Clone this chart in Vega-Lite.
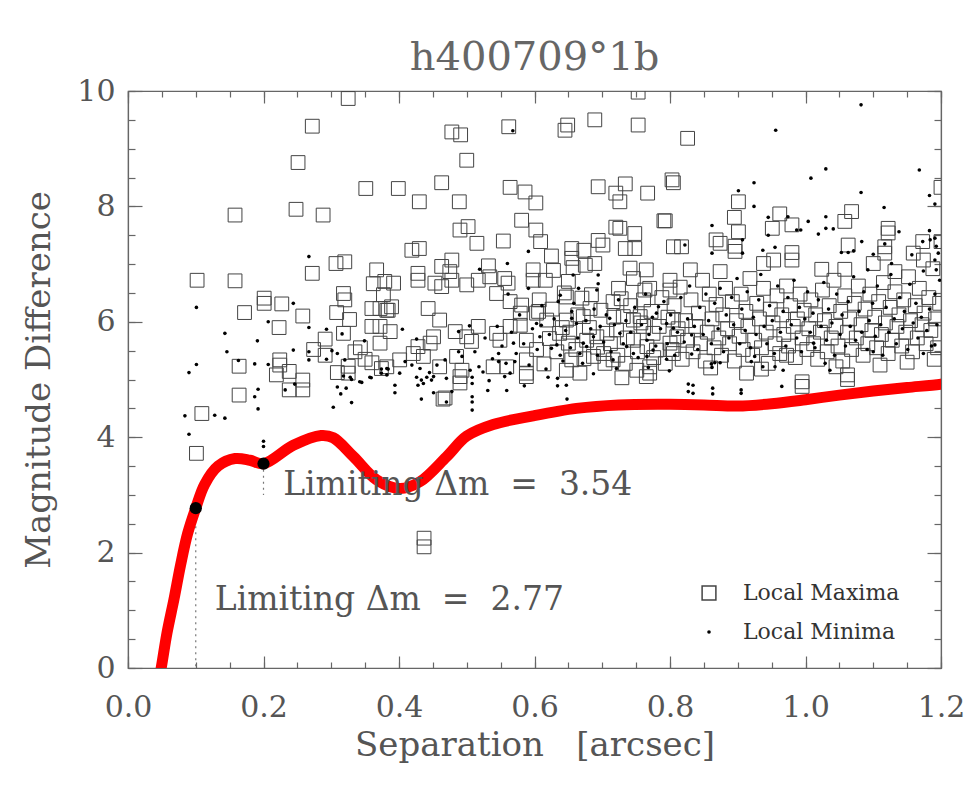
{
"$schema":"https://vega.github.io/schema/vega-lite/v6.json",
"width":813,"height":577,
"autosize":{"type":"none"},
"padding":{"left":128,"top":91,"right":28,"bottom":133},
"background":"white",
"title":{"text":"h400709°1b","font":"DejaVu Serif","fontSize":40,"fontWeight":"normal","color":"#666","anchor":"middle","baseline":"alphabetic","offset":19,"dy":53,"frame":"group"},
"config":{
 "view":{"stroke":"#666","strokeWidth":1.2},
 "axis":{"domainColor":"#666","domainWidth":1.2,"tickColor":"#666","tickWidth":1.2,"labelColor":"#555","titleColor":"#555","labelFont":"DejaVu Serif","titleFont":"DejaVu Serif","labelFontSize":30,"titleFontSize":34,"titleFontWeight":"normal","grid":false,"labelOverlap":false,"labelFlush":false}
},
"datasets":{
"max":[
{"x":0.102,"y":6.72},{"x":0.158,"y":7.85},{"x":0.158,"y":6.71},{"x":0.164,"y":5.23},{"x":0.164,"y":4.73},{"x":0.172,"y":6.16},{"x":0.109,"y":4.41},{"x":0.101,"y":3.72},
{"x":0.201,"y":6.41},{"x":0.201,"y":6.32},{"x":0.227,"y":6.31},{"x":0.223,"y":5.9},{"x":0.224,"y":5.34},{"x":0.224,"y":5.25},{"x":0.219,"y":5.08},{"x":0.238,"y":5.14},{"x":0.258,"y":4.99},{"x":0.258,"y":4.82},{"x":0.238,"y":4.82},{"x":0.258,"y":6.1},
{"x":0.248,"y":7.95},{"x":0.251,"y":8.76},{"x":0.272,"y":9.39},{"x":0.288,"y":7.85},{"x":0.325,"y":9.87},{"x":0.351,"y":8.31},{"x":0.272,"y":6.84},{"x":0.307,"y":7.01},{"x":0.32,"y":7.04},{"x":0.367,"y":6.9},{"x":0.318,"y":6.49},{"x":0.32,"y":6.38},{"x":0.308,"y":6.16},{"x":0.327,"y":6.04},{"x":0.318,"y":5.8},{"x":0.291,"y":5.7},{"x":0.36,"y":6.23},{"x":0.36,"y":5.92},{"x":0.362,"y":6.66},{"x":0.377,"y":6.47},{"x":0.382,"y":6.2},{"x":0.274,"y":5.52},{"x":0.291,"y":5.42},{"x":0.309,"y":5.12},{"x":0.325,"y":5.23},{"x":0.325,"y":5.11},{"x":0.36,"y":5.29},{"x":0.374,"y":5.19},{"x":0.343,"y":5.55},{"x":0.35,"y":5.35},{"x":0.335,"y":5.48},
{"x":0.399,"y":8.31},{"x":0.463,"y":8.41},{"x":0.43,"y":8.08},{"x":0.489,"y":8.08},{"x":0.478,"y":9.29},{"x":0.491,"y":9.24},{"x":0.5,"y":8.8},{"x":0.564,"y":8.33},{"x":0.586,"y":8.25},{"x":0.602,"y":8.06},{"x":0.562,"y":9.38},{"x":0.645,"y":9.32},{"x":0.649,"y":9.41},{"x":0.689,"y":9.5},{"x":0.694,"y":8.34},{"x":0.72,"y":8.23},{"x":0.726,"y":8.08},{"x":0.734,"y":8.39},{"x":0.767,"y":8.23},{"x":0.805,"y":8.41},{"x":0.753,"y":9.98},{"x":0.753,"y":9.41},{"x":0.826,"y":9.18},
{"x":0.581,"y":7.76},{"x":0.602,"y":7.59},{"x":0.49,"y":7.59},{"x":0.502,"y":7.65},{"x":0.515,"y":7.36},{"x":0.554,"y":7.4},{"x":0.609,"y":7.39},{"x":0.419,"y":7.24},{"x":0.43,"y":7.27},{"x":0.625,"y":7.14},{"x":0.655,"y":7.27},{"x":0.673,"y":7.24},{"x":0.694,"y":7.41},{"x":0.701,"y":7.33},{"x":0.72,"y":7.64},{"x":0.726,"y":7.62},{"x":0.748,"y":7.53},{"x":0.791,"y":7.75},{"x":0.734,"y":7.27},{"x":0.748,"y":7.27},{"x":0.805,"y":7.3},
{"x":0.463,"y":6.96},{"x":0.478,"y":7.07},{"x":0.532,"y":6.97},{"x":0.598,"y":6.9},{"x":0.628,"y":6.89},{"x":0.655,"y":7.1},{"x":0.657,"y":6.94},{"x":0.675,"y":6.98},{"x":0.689,"y":7.01},{"x":0.741,"y":6.93},{"x":0.746,"y":6.75},{"x":0.428,"y":6.84},{"x":0.428,"y":6.72},{"x":0.379,"y":6.7},{"x":0.392,"y":6.67},{"x":0.453,"y":6.67},{"x":0.463,"y":6.61},{"x":0.475,"y":6.87},{"x":0.478,"y":6.72},{"x":0.5,"y":6.64},{"x":0.517,"y":6.72},{"x":0.534,"y":6.78},{"x":0.556,"y":6.75},{"x":0.561,"y":6.67},{"x":0.598,"y":6.72},{"x":0.616,"y":6.72},{"x":0.65,"y":6.7},{"x":0.67,"y":6.41},{"x":0.389,"y":6.26},{"x":0.384,"y":6.2},{"x":0.443,"y":6.23},{"x":0.544,"y":6.49},{"x":0.564,"y":6.35},{"x":0.581,"y":6.29},{"x":0.579,"y":6.15},{"x":0.606,"y":6.18},{"x":0.647,"y":6.43},{"x":0.682,"y":6.23},{"x":0.724,"y":6.58},{"x":0.716,"y":6.35},{"x":0.761,"y":6.38},{"x":0.756,"y":6.09},{"x":0.77,"y":6.58},{"x":0.8,"y":6.72},{"x":0.8,"y":6.55},{"x":0.372,"y":6.23},
{"x":0.372,"y":5.92},{"x":0.387,"y":5.83},{"x":0.372,"y":5.63},{"x":0.421,"y":5.45},{"x":0.436,"y":5.4},{"x":0.446,"y":5.63},{"x":0.485,"y":5.4},{"x":0.493,"y":5.16},{"x":0.507,"y":5.66},{"x":0.517,"y":5.92},{"x":0.544,"y":5.8},{"x":0.549,"y":5.68},{"x":0.564,"y":5.92},{"x":0.579,"y":5.94},{"x":0.588,"y":5.68},{"x":0.588,"y":5.34},{"x":0.603,"y":6.15},{"x":0.618,"y":6.03},{"x":0.637,"y":5.8},{"x":0.647,"y":6.03},{"x":0.672,"y":6.09},{"x":0.65,"y":5.63},{"x":0.655,"y":5.34},{"x":0.677,"y":5.68},{"x":0.692,"y":5.74},{"x":0.707,"y":5.8},{"x":0.721,"y":5.86},{"x":0.687,"y":5.4},{"x":0.702,"y":5.45},{"x":0.716,"y":5.34},{"x":0.731,"y":6.09},{"x":0.746,"y":6.03},{"x":0.761,"y":5.92},{"x":0.775,"y":5.8},{"x":0.746,"y":5.68},{"x":0.766,"y":5.57},{"x":0.78,"y":5.51},{"x":0.8,"y":5.63},{"x":0.734,"y":5.28},{"x":0.751,"y":5.16},{"x":0.77,"y":5.22},{"x":0.805,"y":6.03},{"x":0.81,"y":5.74},{"x":0.805,"y":5.45},{"x":0.647,"y":5.16},{"x":0.667,"y":5.11},{"x":0.539,"y":5.22},{"x":0.559,"y":5.22},{"x":0.588,"y":5.11},{"x":0.483,"y":5.83},{"x":0.5,"y":5.74},{"x":0.46,"y":6.03},{"x":0.451,"y":5.74},{"x":0.382,"y":5.22},{"x":0.401,"y":5.34},{"x":0.428,"y":5.57},{"x":0.46,"y":5.22},{"x":0.465,"y":4.66},{"x":0.49,"y":5.05},{"x":0.49,"y":4.94},{"x":0.588,"y":5.05},{"x":0.437,"y":2.25},{"x":0.437,"y":2.1},{"x":0.468,"y":4.68},
{"x":0.803,"y":8.46},{"x":0.793,"y":7.75},{"x":0.901,"y":8.08},{"x":0.895,"y":7.81},{"x":0.901,"y":7.56},{"x":0.962,"y":7.87},{"x":0.98,"y":7.68},{"x":0.951,"y":7.62},{"x":1.068,"y":7.91},{"x":1.058,"y":7.74},{"x":1.122,"y":7.62},{"x":1.122,"y":7.54},{"x":1.2,"y":8.33},{"x":0.874,"y":7.36},{"x":0.896,"y":7.31},{"x":0.896,"y":7.22},{"x":0.817,"y":7.3},{"x":0.98,"y":7.2},{"x":1.063,"y":7.33},{"x":1.117,"y":7.3},{"x":1.117,"y":7.19},{"x":1.173,"y":7.39},{"x":1.159,"y":7.19},{"x":1.2,"y":7.39},{"x":0.765,"y":6.9},{"x":0.83,"y":6.9},{"x":0.874,"y":6.87},{"x":0.938,"y":7.01},{"x":0.953,"y":7.07},{"x":0.98,"y":7.07},{"x":1.024,"y":6.91},{"x":1.058,"y":6.91},{"x":1.1,"y":7.01},{"x":1.132,"y":6.87},{"x":1.174,"y":7.07},{"x":0.868,"y":7.42},
{"x":0.77,"y":5.11},{"x":0.913,"y":5.11},{"x":0.995,"y":4.96},{"x":0.995,"y":4.88},{"x":1.062,"y":5.08},{"x":1.062,"y":5.0},{"x":0.972,"y":5.42},{"x":0.729,"y":5.03},{"x":0.765,"y":5.05},
{"x":0.603,"y":5.52},{"x":0.607,"y":6.38},{"x":0.614,"y":5.27},{"x":0.622,"y":5.71},{"x":0.626,"y":6.22},{"x":0.633,"y":5.48},{"x":0.641,"y":5.9},{"x":0.644,"y":6.5},{"x":0.652,"y":5.82},{"x":0.661,"y":5.52},{"x":0.664,"y":6.12},{"x":0.673,"y":5.36},{"x":0.681,"y":5.9},{"x":0.684,"y":6.47},{"x":0.693,"y":5.56},{"x":0.698,"y":6.2},{"x":0.704,"y":5.28},{"x":0.712,"y":5.62},{"x":0.717,"y":6.08},{"x":0.723,"y":5.42},{"x":0.728,"y":6.4},{"x":0.737,"y":5.72},{"x":0.742,"y":6.28},{"x":0.752,"y":5.48},{"x":0.757,"y":5.98},{"x":0.763,"y":6.55},{"x":0.772,"y":6.18},{"x":0.776,"y":5.38},{"x":0.784,"y":5.92},{"x":0.788,"y":6.42},{"x":0.793,"y":5.28},{"x":0.797,"y":6.08},
{"x":0.803,"y":5.52},{"x":0.806,"y":6.28},{"x":0.812,"y":5.88},{"x":0.815,"y":6.6},{"x":0.818,"y":5.35},{"x":0.823,"y":6.02},{"x":0.826,"y":5.68},{"x":0.831,"y":6.38},{"x":0.834,"y":5.48},{"x":0.838,"y":5.92},{"x":0.842,"y":6.15},{"x":0.845,"y":5.62},{"x":0.848,"y":6.72},{"x":0.852,"y":5.32},{"x":0.855,"y":5.82},{"x":0.858,"y":6.48},{"x":0.862,"y":6.05},{"x":0.865,"y":5.55},{"x":0.868,"y":6.3},{"x":0.872,"y":5.72},{"x":0.876,"y":5.42},{"x":0.878,"y":6.12},{"x":0.882,"y":6.58},{"x":0.885,"y":5.88},{"x":0.888,"y":5.62},{"x":0.892,"y":6.35},{"x":0.895,"y":5.32},{"x":0.898,"y":6.02},{"x":0.902,"y":5.75},{"x":0.905,"y":6.48},{"x":0.908,"y":5.52},{"x":0.912,"y":6.18},{"x":0.915,"y":5.92},{"x":0.918,"y":6.75},{"x":0.922,"y":5.42},{"x":0.925,"y":5.68},{"x":0.928,"y":6.32},{"x":0.932,"y":6.05},{"x":0.935,"y":5.55},{"x":0.938,"y":6.58},{"x":0.942,"y":5.82},{"x":0.945,"y":5.28},{"x":0.948,"y":6.22},{"x":0.952,"y":5.98},{"x":0.955,"y":5.62},{"x":0.958,"y":6.45},{"x":0.962,"y":5.45},{"x":0.965,"y":6.12},{"x":0.968,"y":5.78},{"x":0.972,"y":6.62},{"x":0.975,"y":5.58},{"x":0.978,"y":6.28},{"x":0.982,"y":5.92},{"x":0.985,"y":5.38},{"x":0.988,"y":6.05},{"x":0.992,"y":6.48},{"x":0.995,"y":5.72},{"x":0.998,"y":6.2},
{"x":1.002,"y":5.52},{"x":1.005,"y":5.88},{"x":1.008,"y":6.38},{"x":1.012,"y":5.62},{"x":1.015,"y":6.12},{"x":1.018,"y":5.35},{"x":1.022,"y":5.82},{"x":1.025,"y":6.55},{"x":1.028,"y":6.02},{"x":1.032,"y":5.48},{"x":1.035,"y":6.28},{"x":1.038,"y":5.72},{"x":1.042,"y":6.72},{"x":1.045,"y":5.92},{"x":1.048,"y":5.58},{"x":1.052,"y":6.18},{"x":1.055,"y":5.32},{"x":1.058,"y":6.45},{"x":1.062,"y":5.82},{"x":1.065,"y":6.05},{"x":1.068,"y":5.52},{"x":1.072,"y":6.32},{"x":1.075,"y":5.72},{"x":1.078,"y":6.62},{"x":1.082,"y":5.95},{"x":1.085,"y":5.42},{"x":1.088,"y":6.22},{"x":1.092,"y":5.62},{"x":1.095,"y":6.48},{"x":1.098,"y":5.85},{"x":1.102,"y":6.08},{"x":1.105,"y":5.55},{"x":1.108,"y":6.35},{"x":1.112,"y":5.78},{"x":1.115,"y":6.68},{"x":1.118,"y":5.98},{"x":1.122,"y":5.45},{"x":1.125,"y":6.25},{"x":1.128,"y":5.68},{"x":1.132,"y":6.52},{"x":1.135,"y":5.92},{"x":1.138,"y":6.12},{"x":1.142,"y":5.58},{"x":1.145,"y":6.38},{"x":1.148,"y":5.82},{"x":1.152,"y":6.78},{"x":1.155,"y":6.02},{"x":1.158,"y":5.48},{"x":1.162,"y":6.28},{"x":1.165,"y":5.72},{"x":1.168,"y":6.58},{"x":1.172,"y":5.95},{"x":1.175,"y":6.15},{"x":1.178,"y":5.62},{"x":1.182,"y":6.42},{"x":1.185,"y":5.85},{"x":1.188,"y":6.92},{"x":1.192,"y":6.05},{"x":1.195,"y":5.55},{"x":1.198,"y":6.32},
{"x":0.935,"y":5.18},{"x":1.045,"y":5.22},{"x":1.15,"y":5.3},{"x":0.86,"y":5.2},{"x":1.11,"y":5.25},{"x":1.19,"y":5.35}
],
"min":[
{"x":0.084,"y":4.37},{"x":0.09,"y":4.05},{"x":0.128,"y":4.38},{"x":0.143,"y":4.33},{"x":0.187,"y":4.7},{"x":0.192,"y":4.83},{"x":0.192,"y":4.49},{"x":0.2,"y":3.93},{"x":0.2,"y":3.84},{"x":0.232,"y":4.82},{"x":0.246,"y":4.92},{"x":0.303,"y":4.52},{"x":0.309,"y":4.87},{"x":0.314,"y":4.75},
{"x":0.101,"y":6.25},{"x":0.143,"y":5.8},{"x":0.146,"y":5.48},{"x":0.101,"y":5.26},{"x":0.09,"y":5.12},{"x":0.163,"y":5.33},{"x":0.191,"y":5.67},{"x":0.187,"y":5.27},{"x":0.207,"y":6.0},{"x":0.207,"y":5.26},{"x":0.244,"y":6.32},{"x":0.244,"y":5.51},{"x":0.267,"y":7.13},{"x":0.267,"y":5.9},{"x":0.267,"y":5.48},{"x":0.267,"y":5.34},{"x":0.293,"y":5.87},{"x":0.293,"y":5.35},{"x":0.301,"y":5.5},{"x":0.309,"y":5.45},{"x":0.32,"y":5.34},{"x":0.316,"y":5.79},{"x":0.33,"y":4.6},{"x":0.33,"y":5.0},{"x":0.345,"y":4.95},{"x":0.349,"y":5.67},{"x":0.359,"y":5.03},{"x":0.374,"y":5.18},{"x":0.384,"y":5.18},
{"x":0.591,"y":7.22},{"x":0.56,"y":7.01},{"x":0.519,"y":6.91},{"x":0.561,"y":6.48},{"x":0.591,"y":6.58},{"x":0.638,"y":6.46},{"x":0.635,"y":6.35},{"x":0.665,"y":6.58},{"x":0.694,"y":6.81},{"x":0.694,"y":6.66},{"x":0.692,"y":6.55},{"x":0.657,"y":6.81},{"x":0.504,"y":5.93},{"x":0.488,"y":5.83},{"x":0.405,"y":5.87},{"x":0.426,"y":5.7},{"x":0.468,"y":5.34},{"x":0.431,"y":5.19},{"x":0.451,"y":5.05},{"x":0.47,"y":5.02},{"x":0.409,"y":5.31},{"x":0.419,"y":5.25},{"x":0.505,"y":5.16},{"x":0.524,"y":5.13},{"x":0.547,"y":5.45},{"x":0.547,"y":5.31},{"x":0.564,"y":5.11},{"x":0.571,"y":5.31},{"x":0.569,"y":5.63},{"x":0.603,"y":5.97},{"x":0.608,"y":5.74},{"x":0.625,"y":5.54},{"x":0.638,"y":5.42},{"x":0.655,"y":6.18},{"x":0.655,"y":6.06},{"x":0.662,"y":5.97},{"x":0.61,"y":5.94},{"x":0.672,"y":5.63},{"x":0.677,"y":5.57},{"x":0.687,"y":5.74},{"x":0.697,"y":5.92},{"x":0.711,"y":6.06},{"x":0.726,"y":5.8},{"x":0.736,"y":5.57},{"x":0.746,"y":5.45},{"x":0.766,"y":5.68},{"x":0.775,"y":5.51},{"x":0.783,"y":6.26},{"x":0.78,"y":6.15},{"x":0.795,"y":5.97},{"x":0.805,"y":5.89},{"x":0.716,"y":5.34},{"x":0.721,"y":5.19},{"x":0.667,"y":5.45},{"x":0.382,"y":5.19},{"x":0.401,"y":5.11},{"x":0.488,"y":5.48},{"x":0.493,"y":5.4},{"x":0.445,"y":5.12},{"x":0.456,"y":5.25},{"x":0.568,"y":9.31},
{"x":0.322,"y":4.85},{"x":0.394,"y":4.77},{"x":0.394,"y":4.9},{"x":0.433,"y":4.66},{"x":0.451,"y":4.77},{"x":0.428,"y":4.9},{"x":0.436,"y":4.93},{"x":0.433,"y":4.99},{"x":0.426,"y":5.04},{"x":0.441,"y":5.04},{"x":0.448,"y":4.99},{"x":0.47,"y":4.61},{"x":0.478,"y":4.79},{"x":0.508,"y":4.7},{"x":0.508,"y":4.61},{"x":0.508,"y":4.47},{"x":0.508,"y":4.93},{"x":0.508,"y":5.04},{"x":0.531,"y":4.81},{"x":0.559,"y":4.81},{"x":0.556,"y":5.05},{"x":0.585,"y":4.89},{"x":0.62,"y":5.04},{"x":0.634,"y":5.02},{"x":0.634,"y":4.89},{"x":0.647,"y":4.9},{"x":0.648,"y":4.66},{"x":0.687,"y":5.1},{"x":0.342,"y":4.96},{"x":0.357,"y":5.04},{"x":0.374,"y":5.11},{"x":0.382,"y":5.08},{"x":0.318,"y":5.06},{"x":0.328,"y":5.04},
{"x":1.082,"y":9.76},{"x":0.956,"y":9.32},{"x":1.03,"y":8.65},{"x":1.008,"y":8.49},{"x":1.168,"y":8.63},{"x":0.924,"y":8.41},{"x":0.901,"y":8.27},{"x":1.082,"y":8.24},{"x":1.183,"y":8.19},{"x":1.191,"y":8.04},{"x":0.924,"y":8.0},{"x":1.116,"y":7.98},{"x":0.945,"y":7.81},{"x":0.974,"y":7.82},{"x":1.004,"y":7.74},{"x":1.03,"y":7.82},{"x":1.03,"y":7.62},{"x":1.041,"y":7.61},{"x":1.019,"y":7.52},{"x":0.987,"y":7.59},{"x":0.993,"y":7.59},{"x":0.862,"y":7.67},{"x":0.945,"y":7.5},{"x":0.822,"y":7.33},{"x":0.862,"y":7.19},{"x":0.907,"y":7.42},{"x":0.907,"y":7.19},{"x":0.937,"y":7.24},{"x":0.955,"y":7.29},{"x":1.083,"y":7.39},{"x":1.053,"y":7.2},{"x":1.063,"y":7.2},{"x":1.071,"y":7.23},{"x":1.117,"y":7.35},{"x":1.138,"y":7.56},{"x":1.183,"y":7.58},{"x":1.184,"y":7.42},{"x":1.191,"y":7.45},{"x":1.173,"y":7.39},{"x":1.1,"y":7.17},{"x":1.092,"y":6.9},{"x":1.127,"y":7.01},{"x":1.157,"y":7.16},{"x":1.193,"y":7.31},{"x":1.196,"y":7.19},{"x":1.191,"y":7.07},{"x":1.193,"y":6.9},
{"x":0.832,"y":5.77},{"x":0.832,"y":5.44},{"x":0.827,"y":4.92},{"x":0.834,"y":4.9},{"x":0.827,"y":4.79},{"x":0.834,"y":4.76},{"x":0.863,"y":4.85},{"x":0.863,"y":4.75},{"x":0.905,"y":4.82},{"x":0.905,"y":4.76},{"x":0.861,"y":5.27},{"x":0.866,"y":5.29},{"x":0.874,"y":5.29},{"x":0.862,"y":5.21},{"x":0.768,"y":5.21},{"x":0.799,"y":5.15},{"x":0.965,"y":4.88},{"x":1.036,"y":5.16},{"x":1.029,"y":5.28},{"x":0.955,"y":5.22},{"x":0.967,"y":5.16},{"x":0.937,"y":5.22},{"x":1.174,"y":5.45},{"x":1.191,"y":5.6},{"x":0.92,"y":5.31},{"x":0.925,"y":5.4},{"x":0.766,"y":5.4},{"x":0.795,"y":5.35},{"x":1.012,"y":5.63},{"x":1.1,"y":5.48},
{"x":0.512,"y":5.48},{"x":0.518,"y":5.22},{"x":0.527,"y":5.72},{"x":0.533,"y":4.98},{"x":0.538,"y":5.36},{"x":0.545,"y":5.92},{"x":0.552,"y":5.58},{"x":0.558,"y":5.28},{"x":0.566,"y":5.82},{"x":0.573,"y":5.45},{"x":0.578,"y":6.12},{"x":0.584,"y":5.62},{"x":0.592,"y":5.25},{"x":0.597,"y":5.88},{"x":0.604,"y":5.52},{"x":0.611,"y":6.28},{"x":0.617,"y":5.18},{"x":0.622,"y":5.78},{"x":0.629,"y":6.05},{"x":0.633,"y":5.6},{"x":0.642,"y":5.32},{"x":0.646,"y":5.85},{"x":0.653,"y":5.55},{"x":0.658,"y":6.32},{"x":0.664,"y":5.72},{"x":0.671,"y":5.28},{"x":0.676,"y":6.02},{"x":0.683,"y":5.88},{"x":0.688,"y":6.22},{"x":0.693,"y":5.42},{"x":0.702,"y":5.65},{"x":0.706,"y":6.12},{"x":0.713,"y":5.48},{"x":0.718,"y":5.95},{"x":0.724,"y":6.38},{"x":0.731,"y":5.62},{"x":0.735,"y":6.02},{"x":0.742,"y":5.82},{"x":0.748,"y":6.25},{"x":0.753,"y":5.38},{"x":0.758,"y":5.95},{"x":0.764,"y":6.48},{"x":0.769,"y":5.78},{"x":0.774,"y":6.08},{"x":0.779,"y":5.58},{"x":0.786,"y":5.88},{"x":0.791,"y":6.35},{"x":0.796,"y":5.62},
{"x":0.801,"y":6.12},{"x":0.807,"y":5.42},{"x":0.811,"y":5.82},{"x":0.816,"y":6.42},{"x":0.821,"y":5.65},{"x":0.826,"y":6.05},{"x":0.829,"y":6.62},{"x":0.836,"y":5.92},{"x":0.841,"y":5.52},{"x":0.844,"y":6.25},{"x":0.849,"y":5.78},{"x":0.853,"y":6.48},{"x":0.857,"y":6.02},{"x":0.861,"y":5.62},{"x":0.866,"y":6.32},{"x":0.871,"y":5.88},{"x":0.874,"y":6.58},{"x":0.879,"y":5.48},{"x":0.883,"y":6.12},{"x":0.887,"y":5.72},{"x":0.891,"y":6.42},{"x":0.894,"y":5.95},{"x":0.899,"y":6.75},{"x":0.903,"y":5.62},{"x":0.906,"y":6.22},{"x":0.911,"y":5.85},{"x":0.914,"y":6.52},{"x":0.919,"y":5.55},{"x":0.923,"y":6.08},{"x":0.927,"y":5.78},{"x":0.931,"y":6.38},{"x":0.934,"y":6.82},{"x":0.939,"y":5.92},{"x":0.943,"y":5.62},{"x":0.947,"y":6.28},{"x":0.951,"y":6.02},{"x":0.954,"y":5.45},{"x":0.959,"y":6.62},{"x":0.963,"y":5.82},{"x":0.967,"y":6.18},{"x":0.971,"y":5.58},{"x":0.974,"y":6.42},{"x":0.979,"y":5.95},{"x":0.983,"y":6.72},{"x":0.987,"y":5.72},{"x":0.991,"y":6.25},{"x":0.994,"y":5.48},{"x":0.999,"y":6.05},
{"x":1.003,"y":6.52},{"x":1.007,"y":5.82},{"x":1.011,"y":6.15},{"x":1.014,"y":5.55},{"x":1.019,"y":6.38},{"x":1.023,"y":5.92},{"x":1.027,"y":6.68},{"x":1.031,"y":5.68},{"x":1.034,"y":6.22},{"x":1.039,"y":5.98},{"x":1.043,"y":5.42},{"x":1.046,"y":6.48},{"x":1.051,"y":5.78},{"x":1.054,"y":6.12},{"x":1.059,"y":5.58},{"x":1.063,"y":6.35},{"x":1.066,"y":5.92},{"x":1.071,"y":6.78},{"x":1.074,"y":5.68},{"x":1.079,"y":6.18},{"x":1.083,"y":5.82},{"x":1.086,"y":6.52},{"x":1.091,"y":5.52},{"x":1.094,"y":6.02},{"x":1.099,"y":6.32},{"x":1.103,"y":5.75},{"x":1.106,"y":6.62},{"x":1.111,"y":5.95},{"x":1.114,"y":5.42},{"x":1.119,"y":6.25},{"x":1.123,"y":5.82},{"x":1.126,"y":6.82},{"x":1.131,"y":6.05},{"x":1.134,"y":5.62},{"x":1.139,"y":6.42},{"x":1.143,"y":5.88},{"x":1.146,"y":6.18},{"x":1.151,"y":5.52},{"x":1.154,"y":6.65},{"x":1.159,"y":5.98},{"x":1.163,"y":6.32},{"x":1.166,"y":5.72},{"x":1.171,"y":6.08},{"x":1.174,"y":6.88},{"x":1.179,"y":5.85},{"x":1.183,"y":6.22},{"x":1.186,"y":5.58},{"x":1.191,"y":6.48},{"x":1.194,"y":5.95},{"x":1.198,"y":6.72}
],
"curve":[
{"x":0.044,"y":-0.3},{"x":0.049,"y":0},{"x":0.0576,"y":0.61},{"x":0.068,"y":1.2},{"x":0.0775,"y":1.78},{"x":0.088,"y":2.33},{"x":0.1,"y":2.77},{"x":0.113,"y":3.18},{"x":0.133,"y":3.5},{"x":0.158,"y":3.63},{"x":0.18,"y":3.6},{"x":0.2,"y":3.54},{"x":0.244,"y":3.86},{"x":0.285,"y":4.03},{"x":0.303,"y":3.99},{"x":0.333,"y":3.66},{"x":0.367,"y":3.26},{"x":0.401,"y":3.11},{"x":0.431,"y":3.23},{"x":0.47,"y":3.66},{"x":0.5,"y":4.02},{"x":0.539,"y":4.22},{"x":0.598,"y":4.37},{"x":0.662,"y":4.5},{"x":0.724,"y":4.56},{"x":0.8,"y":4.57},{"x":0.85,"y":4.56},{"x":0.9,"y":4.54},{"x":0.95,"y":4.58},{"x":1.0,"y":4.65},{"x":1.05,"y":4.73},{"x":1.1,"y":4.8},{"x":1.15,"y":4.86},{"x":1.2,"y":4.92},{"x":1.22,"y":4.95}
],
"lim":[{"x":0.1,"y":2.77,"y0":0},{"x":0.2,"y":3.54,"y0":3.0}],
"ann":[{"x":0.229,"y":3.0,"label":"Limiting Δm \u00a0= \u00a03.54"},{"x":0.128,"y":1.0,"label":"Limiting Δm \u00a0= \u00a02.77"}]
},
"layer":[
{"data":{"name":"max"},
 "mark":{"type":"point","filled":true,"clip":true,"strokeWidth":1,"opacity":1},
 "encoding":{
  "x":{"field":"x","type":"quantitative","scale":{"domain":[0,1.2],"nice":false,"zero":false},
   "axis":{"orient":"bottom","values":[0,0.2,0.4,0.6,0.8,1,1.2],"format":".1f","tickSize":-12,"labelPadding":36,"title":"Separation \u00a0\u00a0[arcsec]","titlePadding":6}},
  "y":{"field":"y","type":"quantitative","scale":{"domain":[0,10],"nice":false,"zero":false},
   "axis":{"orient":"left","values":[0,2,4,6,8,10],"tickSize":-14,"labelPadding":27,"title":"Magnitude Difference","titlePadding":20}},
  "shape":{"datum":"Local Maxima","type":"nominal","scale":{"domain":["Local Maxima","Local Minima"],"range":["square","circle"]},
   "legend":{"title":null,"orient":"none","legendX":570,"legendY":491,"labelFont":"DejaVu Serif","labelFontSize":22,"labelColor":"#333","rowPadding":17,"labelOffset":23,"padding":0}},
  "size":{"datum":"Local Maxima","type":"ordinal","scale":{"domain":["Local Maxima","Local Minima"],"range":[190,13]}},
  "fill":{"datum":"Local Maxima","type":"nominal","scale":{"domain":["Local Maxima","Local Minima"],"range":["transparent","#000000"]}},
  "stroke":{"datum":"Local Maxima","type":"nominal","scale":{"domain":["Local Maxima","Local Minima"],"range":["#444444","transparent"]}}
 }},
{"data":{"name":"min"},
 "mark":{"type":"point","filled":true,"clip":true,"strokeWidth":1,"opacity":1},
 "encoding":{
  "x":{"field":"x","type":"quantitative","axis":{"orient":"bottom","values":[0,0.05,0.1,0.15,0.2,0.25,0.3,0.35,0.4,0.45,0.5,0.55,0.6,0.65,0.7,0.75,0.8,0.85,0.9,0.95,1,1.05,1.1,1.15,1.2],"tickSize":-6,"labels":false,"domain":false,"title":null}},
  "y":{"field":"y","type":"quantitative","axis":{"orient":"left","values":[0,0.5,1,1.5,2,2.5,3,3.5,4,4.5,5,5.5,6,6.5,7,7.5,8,8.5,9,9.5,10],"tickSize":-7,"labels":false,"domain":false,"title":null}},
  "shape":{"datum":"Local Minima","type":"nominal"},
  "size":{"datum":"Local Minima","type":"ordinal"},
  "fill":{"datum":"Local Minima","type":"nominal"},
  "stroke":{"datum":"Local Minima","type":"nominal"}
 }},
{"data":{"name":"lim"},
 "mark":{"type":"rule","color":"#777","strokeWidth":1.2,"strokeDash":[2,4]},
 "encoding":{
  "x":{"field":"x","type":"quantitative","axis":{"orient":"top","values":[0,0.05,0.1,0.15,0.2,0.25,0.3,0.35,0.4,0.45,0.5,0.55,0.6,0.65,0.7,0.75,0.8,0.85,0.9,0.95,1,1.05,1.1,1.15,1.2],"tickSize":-6,"labels":false,"domain":false,"title":null}},
  "y":{"field":"y","type":"quantitative","axis":{"orient":"right","values":[0,0.5,1,1.5,2,2.5,3,3.5,4,4.5,5,5.5,6,6.5,7,7.5,8,8.5,9,9.5,10],"tickSize":-7,"labels":false,"domain":false,"title":null}},
  "y2":{"field":"y0"}}},
{"data":{"name":"curve"},
 "mark":{"type":"line","color":"#ff0000","strokeWidth":11,"interpolate":"catmull-rom","clip":true},
 "encoding":{
  "x":{"field":"x","type":"quantitative","axis":{"orient":"top","values":[0,0.2,0.4,0.6,0.8,1,1.2],"tickSize":-12,"labels":false,"title":null}},
  "y":{"field":"y","type":"quantitative","axis":{"orient":"right","values":[0,2,4,6,8,10],"tickSize":-14,"labels":false,"title":null}},
  "order":{"field":"x","type":"quantitative"}
 }},
{"data":{"name":"lim"},
 "mark":{"type":"point","filled":true,"color":"#000","size":150,"opacity":1},
 "encoding":{"x":{"field":"x","type":"quantitative","axis":null},"y":{"field":"y","type":"quantitative","axis":null}}},
{"data":{"name":"ann"},
 "mark":{"type":"text","font":"DejaVu Serif","fontSize":33,"color":"#555","align":"left","baseline":"alphabetic"},
 "encoding":{"x":{"field":"x","type":"quantitative","axis":null},"y":{"field":"y","type":"quantitative","axis":null},"text":{"field":"label"}}}
]
}
